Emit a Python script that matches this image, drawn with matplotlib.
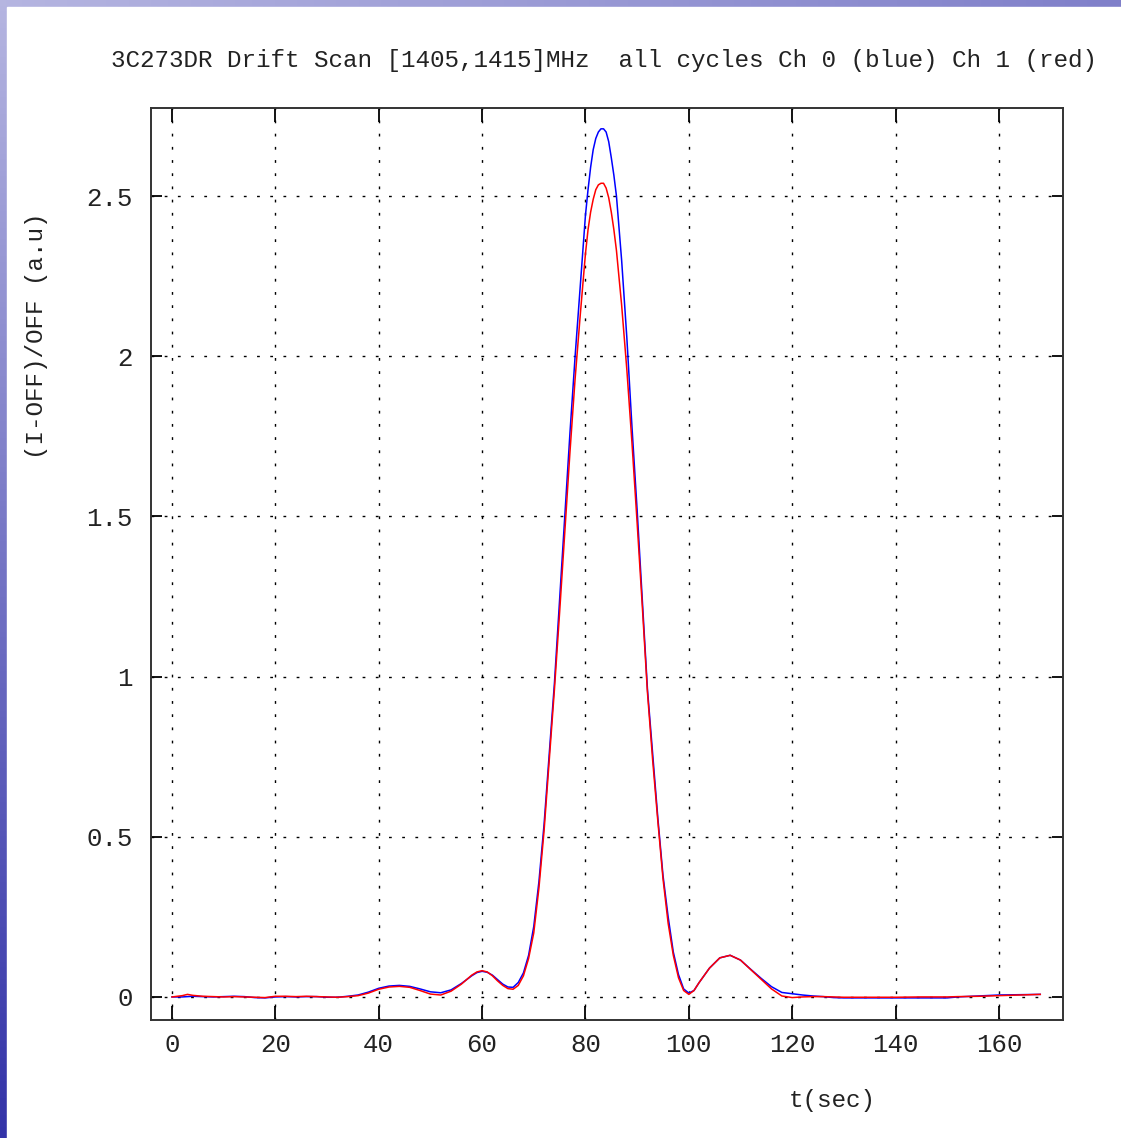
import numpy as np
import matplotlib
matplotlib.use("Agg")
import matplotlib.pyplot as plt

# drift scan samples (t in sec)
t = [0, 2, 3, 4, 6, 8, 10, 12, 14, 16, 18, 20, 22, 24, 26, 28, 30, 32, 34, 36,
     38, 40, 42, 44, 46, 48, 50, 52, 54, 56, 58, 59, 60, 61, 62, 63, 64, 65, 66,
     67, 68, 69, 70, 71, 72, 73, 74, 75, 76, 77, 78, 79, 80, 80.5, 81, 81.5, 82,
     82.5, 83, 83.5, 84, 84.5, 85, 85.5, 86, 87, 88, 89, 90, 91, 92, 93, 94, 95,
     96, 97, 98, 99, 100, 101, 102, 104, 106, 108, 110, 112, 114, 116, 118, 120,
     122, 124, 126, 128, 130, 135, 140, 145, 150, 152, 156, 160, 164, 168]

ch0_blue = [0.0, 0.0, 0.001, 0.002, 0.001, 0.0, 0.001, 0.002, 0.001, -0.002,
            -0.003, 0.0, 0.001, 0.0, 0.001, 0.001, -0.001, -0.001, 0.002, 0.006,
            0.015, 0.027, 0.034, 0.036, 0.033, 0.025, 0.016, 0.013, 0.022, 0.042,
            0.066, 0.076, 0.080, 0.077, 0.068, 0.054, 0.040, 0.031, 0.030, 0.045,
            0.075, 0.13, 0.22, 0.36, 0.54, 0.76, 0.98, 1.24, 1.50, 1.76, 2.00,
            2.22, 2.44, 2.52, 2.59, 2.645, 2.68, 2.70, 2.71, 2.71, 2.70, 2.67,
            2.62, 2.565, 2.50, 2.30, 2.06, 1.78, 1.52, 1.24, 0.96, 0.76, 0.56,
            0.38, 0.25, 0.14, 0.07, 0.025, 0.012, 0.02, 0.045, 0.09, 0.122, 0.130,
            0.115, 0.086, 0.058, 0.032, 0.014, 0.010, 0.006, 0.003, 0.001, -0.002,
            -0.003, -0.003, -0.003, -0.003, -0.003, 0.0, 0.003, 0.006, 0.007,
            0.008]

ch1_red = [0.0, 0.004, 0.008, 0.005, 0.002, 0.001, 0.0, 0.001, 0.0, -0.001,
           -0.002, 0.002, 0.002, 0.001, 0.002, 0.001, 0.0, -0.001, 0.001, 0.004,
           0.012, 0.024, 0.031, 0.033, 0.030, 0.020, 0.009, 0.006, 0.018, 0.040,
           0.068, 0.078, 0.082, 0.078, 0.066, 0.050, 0.036, 0.026, 0.024, 0.036,
           0.066, 0.12, 0.20, 0.34, 0.52, 0.74, 0.96, 1.20, 1.45, 1.70, 1.93,
           2.13, 2.32, 2.395, 2.45, 2.49, 2.52, 2.535, 2.54, 2.54, 2.525, 2.495,
           2.45, 2.395, 2.33, 2.16, 1.96, 1.73, 1.48, 1.22, 0.95, 0.74, 0.55,
           0.37, 0.23, 0.13, 0.06, 0.02, 0.008, 0.02, 0.045, 0.09, 0.122, 0.130,
           0.115, 0.085, 0.055, 0.025, 0.003, -0.002, 0.0, 0.001, 0.001, 0.0,
           -0.001, -0.001, -0.001, 0.0, 0.0, 0.001, 0.002, 0.004, 0.006, 0.008]

xticks = [0, 20, 40, 60, 80, 100, 120, 140, 160]
yticks = [0, 0.5, 1, 1.5, 2, 2.5]
ytick_labels = ["0", "0.5", "1", "1.5", "2", "2.5"]

mono = "Liberation Mono"

fig = plt.figure(figsize=(11.21, 11.38), dpi=100)

# slide background: blue gradient strips on the left and top edges
bg = fig.add_axes([0, 0, 1, 1], zorder=-10)
ny, nx = 200, 200
yy, xx = np.mgrid[0:1:ny * 1j, 0:1:nx * 1j]
light = np.array([0.80, 0.80, 0.92])
dark = np.array([0.20, 0.20, 0.66])
mix = np.clip(0.15 + 0.85 * yy + 0.35 * xx, 0, 1)[..., None]
img = light * (1 - mix) + dark * mix
bg.imshow(img, extent=[0, 1, 0, 1], aspect="auto", origin="upper")
bg.add_patch(plt.Rectangle((7 / 1121, 0), 1, 1 - 7 / 1138, color="white"))
bg.set_xlim(0, 1)
bg.set_ylim(0, 1)
bg.axis("off")

ax = fig.add_axes([151 / 1121, 1 - 1020 / 1138, 912 / 1121, 912 / 1138])
ax.plot(t, ch0_blue, color="#0000ff", lw=1.1, zorder=3)
ax.plot(t, ch1_red, color="#ff0000", lw=1.1, zorder=4)

ax.set_xlim(-4.06, 172.4)
ax.set_ylim(-0.072, 2.775)
ax.set_xticks(xticks)
ax.set_xticklabels([str(v) for v in xticks], family=mono, fontsize=18.5, color="#222222")
ax.set_yticks(yticks)
ax.set_yticklabels(ytick_labels, family=mono, fontsize=18.5, color="#222222")
ax.tick_params(axis="x", direction="in", length=10, width=1.3, top=True, pad=9)
ax.tick_params(axis="y", direction="in", length=8, width=1.3, right=True, pad=13)
ax.grid(True, color="black", lw=1.0, linestyle=(0, (2, 7.5)))
for s in ax.spines.values():
    s.set_linewidth(1.4)
    s.set_color("#333333")

fig.text(604 / 1121, 1 - 60 / 1138,
         "3C273DR Drift Scan [1405,1415]MHz  all cycles Ch 0 (blue) Ch 1 (red)",
         family=mono, fontsize=17.5, ha="center", va="center", color="#222222")
fig.text(832 / 1121, 1 - 1101 / 1138, "t(sec)", family=mono, fontsize=17.5,
         ha="center", va="center", color="#222222")
fig.text(37 / 1121, 1 - 336 / 1138, "(I-OFF)/OFF (a.u)", family=mono, fontsize=17.5,
         ha="center", va="center", rotation=90, color="#222222")

fig.savefig("out.png", dpi=100)
